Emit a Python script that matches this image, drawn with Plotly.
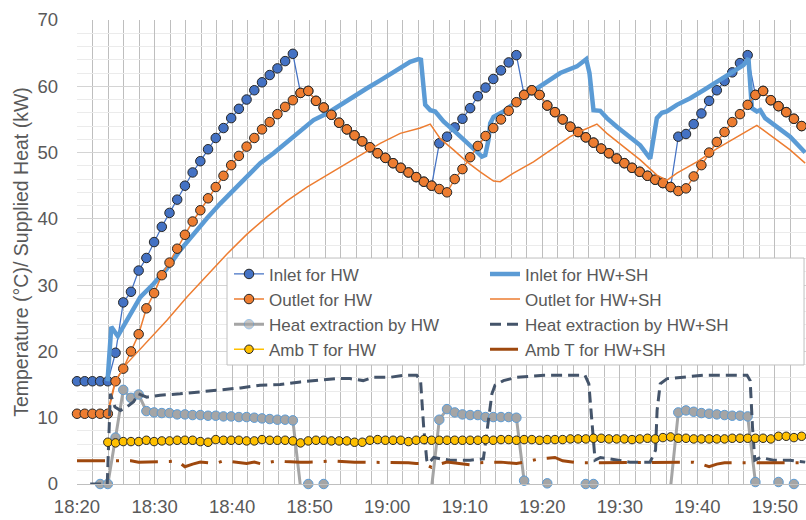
import pandas as pd
import plotly.graph_objects as go

# ---------------- data ----------------
START = pd.Timestamp("2000-01-01 18:20:00")
HW_STEP_MIN = 0.994  # HW logger sampling interval (minutes)
N_HW = 95

inlet_hw = [15.5, 15.5, 15.5, 15.5, 15.5, 19.8, 27.4, 29.0, 32.2, 34.1, 36.5, 38.8, 40.9, 42.9, 45.0,
            47.0, 48.7, 50.5, 52.2, 53.7, 55.2, 56.6, 58.0, 59.4, 60.6, 61.7, 62.7, 63.8, 64.9,
            59.0, 59.3, 57.8, 56.8, 55.7, 54.5, 53.5, 52.6, 51.7, 50.8, 49.9, 49.2, 48.4, 47.7, 47.0,
            46.3, 45.6, 45.0,
            51.4, 52.4, 53.8, 55.1, 56.7, 58.5, 59.8, 61.1, 62.4, 63.6, 64.7,
            58.7, 59.4, 58.7, 57.1, 56.1, 55.0, 53.9, 53.1, 52.3, 51.5, 50.6, 49.9, 49.1, 48.4, 47.7,
            47.1, 46.5, 45.9, 45.4, 44.8,
            52.4, 52.8, 54.3, 55.9, 57.8, 59.4, 60.8, 62.1, 63.5, 64.7,
            58.7, 59.3, 57.9, 57.0, 56.1, 55.1, 54.0]

outlet_hw = [10.6, 10.6, 10.6, 10.6, 10.6, 15.5, 17.4, 20.0, 22.6, 26.5, 28.8, 31.5, 33.4, 35.5, 37.6,
             39.6, 41.3, 43.1, 44.8, 46.5, 48.1, 49.5, 50.9, 52.2, 53.5, 54.6, 55.8, 56.9, 57.9,
             59.0, 59.3, 57.8, 56.8, 55.7, 54.5, 53.5, 52.6, 51.7, 50.8, 49.9, 49.2, 48.4, 47.7, 47.0,
             46.3, 45.6, 45.0, 44.5, 44.0, 46.0, 47.5, 49.3, 51.0, 52.5, 53.7, 55.0, 56.3, 57.6,
             58.7, 59.4, 58.7, 57.1, 56.1, 55.0, 53.9, 53.1, 52.3, 51.5, 50.6, 49.9, 49.1, 48.4, 47.7,
             47.1, 46.5, 45.9, 45.4, 44.8, 44.2, 44.6, 46.4, 48.1, 50.0, 51.6, 53.1, 54.6, 55.8, 57.2,
             58.7, 59.3, 57.9, 57.0, 56.1, 55.1, 54.0]

# negative readings fall below the axis and are not shown
heat_hw = [-0.5, -0.5, -0.5, 0.0, 0.0, 7.0, 14.2, 13.0, 13.5, 11.0, 10.8, 10.7, 10.7, 10.5, 10.5,
           10.4, 10.4, 10.3, 10.3, 10.2, 10.2, 10.1, 10.1, 10.0, 9.9, 9.8, 9.7, 9.7, 9.6,
           -0.5, 0.0, -0.5, 0.0, -0.5, -0.5, -0.5, -0.5, -0.5, -0.5, -0.5, -0.5, -0.5, -0.5, -0.5,
           -0.5, -0.5, -0.5,
           9.7, 11.3, 10.8, 10.5, 10.4, 10.4, 10.1, 10.1, 10.1, 10.1, 10.0,
           0.5, -0.5, -0.5, 0.1, -0.5, -0.5, -0.5, -0.5, 0.0, 0.0, -0.5, -0.5, -0.5, -0.5, -0.5,
           -0.5, -0.5, -0.5, -0.5, -0.5,
           10.8, 11.1, 10.9, 10.7, 10.6, 10.5, 10.4, 10.3, 10.3, 10.2,
           0.3, -0.5, -0.5, 0.3, -0.5, 0.0, -0.5]

amb_hw = [None, None, None, None, 6.3, 6.2, 6.4, 6.4, 6.4, 6.6, 6.4, 6.5, 6.5, 6.6, 6.6,
          6.6, 6.4, 6.3, 6.7, 6.6, 6.6, 6.6, 6.5, 6.5, 6.7, 6.6, 6.6, 6.6, 6.5,
          6.2, 6.5, 6.6, 6.6, 6.5, 6.5, 6.5, 6.3, 6.3, 6.6, 6.7, 6.6, 6.6, 6.6, 6.4,
          6.6, 6.7, 6.6, 6.6, 6.6, 6.6, 6.6, 6.6, 6.6, 6.7, 6.6, 6.7, 6.7, 6.6,
          6.7, 6.7, 6.6, 6.7, 6.7, 6.7, 6.8, 6.8, 6.8, 6.9, 6.9, 6.8, 6.8, 6.8, 6.7,
          6.8, 6.9, 6.8, 7.0, 7.1, 6.9, 6.9, 6.8, 6.8, 6.8, 6.8, 6.8, 6.9, 6.9, 6.9,
          6.9, 6.9, 6.8, 7.2, 7.2, 7.0, 7.2]

amb_hwsh = [3.5, 3.5, 3.5, 3.5, 3.5, 3.4, 3.4, 3.5, 3.3, 3.3, 3.3, 3.3, 3.4, 3.5, 2.6,
            3.0, 3.3, 3.2, 3.1, 3.5, 3.4, 3.3, 3.1, 3.3, 3.0, 3.3, 3.5, 3.4, 3.3,
            3.3, 3.3, 3.3, 3.4, 3.5, 3.4, 3.3, 3.3, 3.3, 3.3, 3.3, 3.3, 3.3, 3.3, 3.2,
            3.1, 3.1, 2.5, 3.0, 3.3, 3.2, 3.0, 2.9, 3.2, 3.3, 3.3, 3.3, 3.2, 3.1,
            3.3, 3.6, 3.8, 3.9, 4.0, 3.5, 3.3, 3.2, 3.2, 3.2, 3.2, 3.3, 3.3, 3.3, 3.2,
            3.2, 3.2, 3.2, 3.2, 3.2, 3.2, 3.3, 3.3, 3.0, 2.6, 3.0, 3.2, 3.2, 3.2, 3.3,
            3.3, 3.3, 3.3, 3.3, 3.2, 3.2, 3.2]

# HW+SH series (minutes after 18:20, value)
inlet_hwsh_min = [3.94, 4.42, 5.26, 6.45, 8.16, 9.88, 11.6, 13.32, 15.03, 16.76, 18.47, 20.19,
                  21.92, 23.63, 25.34, 27.07, 28.79, 30.5, 32.23, 33.94, 35.66, 37.39, 39.1, 40.81,
                  42.1, 42.96, 44.04, 44.35, 44.9, 45.55, 46.19, 47.26, 48.99, 50.28, 51.57, 52.21,
                  52.64, 53.06, 53.28, 53.71, 55.0, 56.72, 58.86, 60.59, 62.31, 64.46, 65.66, 66.08,
                  66.6, 67.46, 68.33, 69.61, 71.33, 72.62, 73.91, 74.77, 75.42, 76.06, 77.35, 79.07,
                  80.78, 82.51, 84.22, 85.94, 86.58, 87.02, 87.66, 88.09, 88.73, 90.24, 91.95, 93.89]
inlet_hwsh = [15.5, 23.7, 22.3, 24.7, 28.2, 30.2, 32.5, 35.3, 37.8, 40.1, 42.3, 44.3,
              46.3, 48.4, 49.9, 51.6, 53.2, 54.9, 55.9, 57.2, 58.4, 59.7, 60.9, 62.2,
              63.0, 63.7, 64.1, 64.0, 57.2, 56.4, 56.2, 54.7, 52.9, 51.6, 50.1, 49.4,
              49.6, 51.9, 54.4, 55.4, 56.2, 57.7, 59.4, 60.6, 62.0, 63.0, 64.1, 62.0,
              56.4, 56.3, 55.2, 53.9, 52.4, 51.1, 49.1, 55.2, 56.0, 56.2, 57.2, 58.2,
              59.4, 60.7, 62.0, 63.2, 64.2, 56.7, 56.2, 56.4, 55.2, 53.9, 52.4, 50.0]

outlet_hwsh_min = [3.9, 4.94, 6.45, 9.02, 11.6, 14.18, 16.76, 19.34, 21.92, 24.49, 27.07, 29.65,
                   31.37, 33.94, 36.52, 39.1, 41.68, 44.26, 45.55, 46.84, 48.55, 50.28, 51.99,
                   53.71, 54.57, 56.28, 58.86, 61.44, 63.59, 65.31, 67.04, 68.32, 70.47, 72.62,
                   74.77, 76.06, 77.35, 79.93, 82.51, 85.09, 87.66, 88.51, 90.24, 91.95, 93.89]
outlet_hwsh = [10.6, 15.6, 18.2, 21.5, 24.7, 28.2, 31.5, 34.7, 37.7, 40.3, 42.7, 44.8,
               46.0, 47.8, 49.6, 51.4, 52.9, 53.7, 54.3, 52.1, 50.4, 48.6, 47.1,
               45.7, 45.6, 46.9, 48.6, 50.6, 52.4, 53.4, 54.3, 52.9, 50.9, 48.9,
               46.6, 45.8, 46.9, 48.6, 50.6, 52.4, 54.1, 53.4, 51.9, 50.4, 48.4]

heat_hwsh_min = [1.7, 3.9, 4.3, 4.9, 5.6, 6.4, 7.3, 7.9, 9.0, 10.7, 13.3, 15.9, 18.5, 21.1, 23.6,
                 26.2, 28.8, 31.4, 33.5, 35.2, 36.9, 38.2, 40.4, 42.1, 43.8, 44.3, 44.7, 45.1,
                 45.3, 46.0, 46.8, 48.1, 50.7, 52.4, 52.9, 53.5, 53.9, 55.0, 56.7, 60.2, 62.7,
                 65.5, 66.0, 66.4, 66.8, 67.5, 69.6, 71.3, 73.9, 74.6, 74.8, 75.2, 76.1, 78.2,
                 80.8, 86.4, 86.8, 87.1, 87.4, 88.1, 89.8, 91.9, 93.9]
heat_hwsh = [0.0, 0.0, 13.6, 11.6, 11.1, 11.6, 12.4, 13.6, 13.1, 13.4, 13.6, 13.9, 14.1, 14.5, 14.9,
             15.0, 15.4, 15.7, 15.9, 15.9, 15.6, 16.1, 16.1, 16.4, 16.4, 15.6, 8.6, 3.6,
             3.1, 4.0, 3.8, 3.6, 3.6, 3.8, 8.6, 13.6, 14.9, 15.6, 16.1, 16.4, 16.4,
             16.4, 15.1, 8.6, 3.6, 4.0, 3.6, 3.3, 3.3, 5.1, 11.1, 15.1, 15.9, 16.1,
             16.4, 16.4, 15.6, 8.6, 3.6, 4.0, 3.6, 3.6, 3.3]

tick_labels = ["18:20", "18:30", "18:40", "18:50", "19:00", "19:10", "19:20", "19:30", "19:40", "19:50"]


def to_time(minutes):
    return [START + pd.Timedelta(minutes=m) for m in minutes]


t_hw = to_time([i * HW_STEP_MIN for i in range(N_HW)])

# ---------------- figure ----------------
FONT = "Liberation Sans, Arial, sans-serif"
TXT = "#595959"
DARK_EDGE = "#262626"

fig = go.Figure()

fig.add_trace(go.Scatter(
    x=t_hw, y=inlet_hw, name="Inlet for HW", mode="lines+markers",
    line=dict(color="#4472C4", width=1.25),
    marker=dict(symbol="circle", size=9.5, color="#4472C4", line=dict(color=DARK_EDGE, width=1)),
    cliponaxis=False))

fig.add_trace(go.Scatter(
    x=to_time(inlet_hwsh_min), y=inlet_hwsh, name="Inlet for HW+SH", mode="lines",
    line=dict(color="#5B9BD5", width=4.5)))

fig.add_trace(go.Scatter(
    x=t_hw, y=outlet_hw, name="Outlet for HW", mode="lines+markers",
    line=dict(color="#ED7D31", width=1.5),
    marker=dict(symbol="circle", size=9.5, color="#ED7D31", line=dict(color=DARK_EDGE, width=1)),
    cliponaxis=False))

fig.add_trace(go.Scatter(
    x=to_time(outlet_hwsh_min), y=outlet_hwsh, name="Outlet for HW+SH", mode="lines",
    line=dict(color="#ED7D31", width=1.5)))

fig.add_trace(go.Scatter(
    x=t_hw, y=heat_hw, name="Heat extraction by HW", mode="lines+markers",
    line=dict(color="#A5A5A5", width=3),
    marker=dict(symbol="circle", size=9.5, color="#A5A5A5",
                opacity=[1 if v >= 0 else 0 for v in heat_hw],
                line=dict(color="#5B9BD5", width=1)),
    cliponaxis=False))

fig.add_trace(go.Scatter(
    x=to_time(heat_hwsh_min), y=heat_hwsh, name="Heat extraction by HW+SH", mode="lines",
    line=dict(color="#44546A", width=3, dash="11px,6px")))

fig.add_trace(go.Scatter(
    x=t_hw, y=amb_hw, name="Amb T for HW", mode="lines+markers",
    line=dict(color="#FFC000", width=1.5),
    marker=dict(symbol="circle", size=8.5, color="#FFC000", line=dict(color=DARK_EDGE, width=1)),
    cliponaxis=False))

fig.add_trace(go.Scatter(
    x=t_hw, y=amb_hwsh, name="Amb T for HW+SH", mode="lines",
    line=dict(color="#9E480E", width=3, dash="28px,11px,3px,11px")))

tickvals = [START + pd.Timedelta(minutes=10 * k) for k in range(len(tick_labels))]

# legend frame (opaque box spanning to the right edge of the plot)
fig.add_shape(type="rect", xref="paper", yref="paper",
              x0=0.2058, x1=0.9973, y0=0.2565, y1=0.487,
              fillcolor="white", line=dict(color="#BFBFBF", width=1), layer="above")

fig.update_layout(
    width=806, height=520,
    margin=dict(l=77, r=0, t=20, b=36),
    paper_bgcolor="white", plot_bgcolor="white",
    font=dict(family=FONT, color=TXT),
    xaxis=dict(
        type="date",
        range=[START, START + pd.Timedelta(minutes=94)],
        tickmode="array", tickvals=tickvals, ticktext=tick_labels,
        showgrid=True, gridcolor="#BEBEBE", gridwidth=1,
        minor=dict(tickmode="linear", tick0=START, dtick=2 * 60 * 1000,
                   showgrid=True, gridcolor="#BEBEBE", gridwidth=1),
        showline=True, linecolor="#BFBFBF", linewidth=1,
        zeroline=False, ticks="",
        tickfont=dict(size=18.5, color=TXT, family=FONT),
        ticklabelstandoff=6,
    ),
    yaxis=dict(
        range=[0, 70], tickmode="linear", tick0=0, dtick=10,
        showgrid=True, gridcolor="#D4D4D4", gridwidth=1,
        minor=dict(tickmode="linear", tick0=0, dtick=2, showgrid=True,
                   gridcolor="#EBEBEB", gridwidth=1),
        zeroline=False, showline=False, ticks="",
        tickfont=dict(size=18.5, color=TXT, family=FONT),
        ticklabelstandoff=18,
        title=dict(text="Temperature (°C)/ Supplied Heat (kW)",
                   font=dict(size=19.5, color=TXT, family=FONT), standoff=3),
    ),
    legend=dict(
        orientation="h", x=0.2085, y=0.4905, xanchor="left", yanchor="top",
        bgcolor="rgba(0,0,0,0)", borderwidth=0,
        font=dict(size=17, color=TXT, family=FONT),
        entrywidth=211, traceorder="normal", itemwidth=30,
    ),
    showlegend=True,
)

fig.write_html("out.html")
